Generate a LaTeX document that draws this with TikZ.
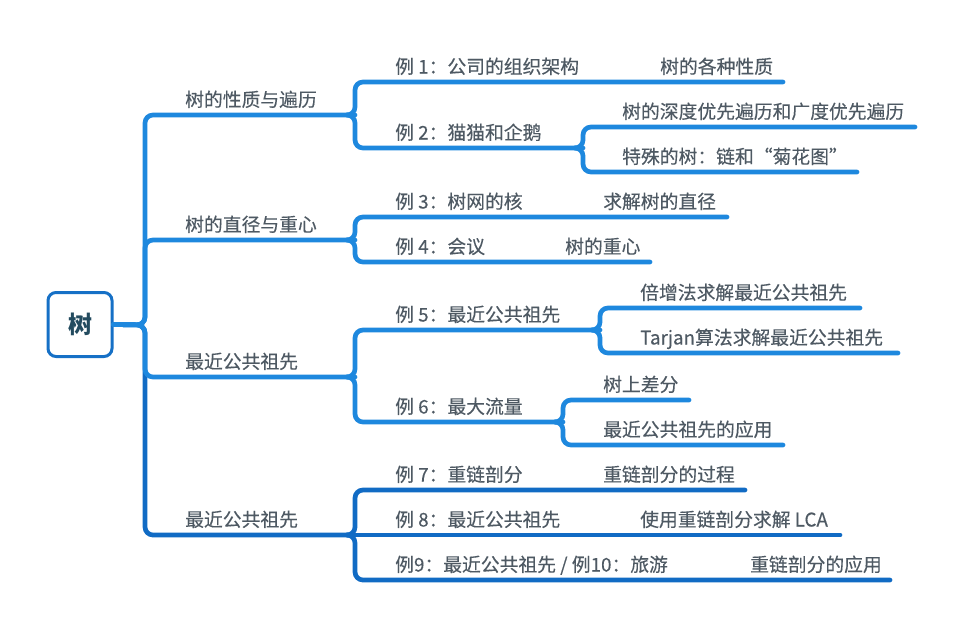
\documentclass[tikz,border=0pt]{standalone}
\usepackage{fontspec}
\setmainfont{Noto Sans CJK SC}
\newfontfamily\topicfont{Noto Sans CJK SC}[FakeBold=0.3]
\definecolor{lineblue}{RGB}{30,136,222}
\definecolor{deepblue}{RGB}{17,107,196}
\definecolor{rootblue}{RGB}{22,112,198}
\definecolor{txtgray}{RGB}{78,89,99}
\definecolor{roottxt}{RGB}{35,75,95}
\tikzset{
  topic/.style={font=\topicfont\fontsize{18.8}{21}\selectfont, text=txtgray, inner sep=0pt, anchor=base west},
  link/.style={line width=4.7pt, line cap=round, rounded corners=8pt, draw=lineblue},
  rootbox/.style={draw=rootblue, line width=3pt, rounded corners=8pt, minimum width=64pt, minimum height=64pt, font=\fontsize{24}{26}\selectfont\bfseries, text=roottxt}
}
\begin{document}
\begin{tikzpicture}[x=1pt,y=-1pt]
    \useasboundingbox (0,0) rectangle (962,629);

    \node[rootbox] (r) at (80,324.5) {树};

    \coordinate (t) at (145,325);
    \coordinate (a) at (355,115);
    \coordinate (b) at (355,240);
    \coordinate (c) at (355,377);
    \coordinate (d) at (355,535);

    \coordinate (a1) at (783,82);
    \coordinate (a2) at (583,148);
    \coordinate (a21) at (915,127);
    \coordinate (a22) at (857,172);
    \coordinate (b1) at (727,217);
    \coordinate (b2) at (650,262);
    \coordinate (c1) at (600,330);
    \coordinate (c11) at (860,308);
    \coordinate (c12) at (898,353);
    \coordinate (c2) at (563,422);
    \coordinate (c21) at (689,400);
    \coordinate (c22) at (783,445);
    \coordinate (d1) at (745,490);
    \coordinate (d2) at (840,535);
    \coordinate (d3) at (890,580);

%   fourth branch first, in the deeper blue
    \draw[link,draw=deepblue] (r.east) -- (t) |- (d);
    \draw[link,draw=deepblue] ([xshift=-8pt]d) -- (d) |- (d1);
    \draw[link,draw=deepblue] (d) -- (d2);
    \draw[link,draw=deepblue] ([xshift=-8pt]d) -- (d) |- (d3);

    \draw[link] (r.east) -- (t) |- (a);
    \draw[link] (r.east) -- (t) |- (b);
    \draw[link] (r.east) -- (t) |- (c);

    \draw[link] ([xshift=-8pt]a) -- (a) |- (a1);
    \draw[link] ([xshift=-8pt]a) -- (a) |- (a2);
    \draw[link] ([xshift=-8pt]a2) -- (a2) |- (a21);
    \draw[link] ([xshift=-8pt]a2) -- (a2) |- (a22);

    \draw[link] ([xshift=-8pt]b) -- (b) |- (b1);
    \draw[link] ([xshift=-8pt]b) -- (b) |- (b2);

    \draw[link] ([xshift=-8pt]c) -- (c) |- (c1);
    \draw[link] ([xshift=-8pt]c) -- (c) |- (c2);
    \draw[link] ([xshift=-8pt]c1) -- (c1) |- (c11);
    \draw[link] ([xshift=-8pt]c1) -- (c1) |- (c12);
    \draw[link] ([xshift=-8pt]c2) -- (c2) |- (c21);
    \draw[link] ([xshift=-8pt]c2) -- (c2) |- (c22);

    \node[topic] (na) at (185,106.5) {树的性质与遍历};
    \node[topic] (nb) at (185,231.5) {树的直径与重心};
    \node[topic] (nc) at (185,368.5) {最近公共祖先};
    \node[topic] (nd) at (185,526.5) {最近公共祖先};

    \node[topic] (na1) at (395,73.5) {例 1：公司的组织架构};
    \node[topic] (xa1) at (660,73.5) {树的各种性质};
    \node[topic] (na2) at (395,139.5) {例 2：猫猫和企鹅};
    \node[topic] (na21) at (622,118.5) {树的深度优先遍历和广度优先遍历};
    \node[topic] (na22) at (622,163.5) {特殊的树：链和“菊花图”};

    \node[topic] (nb1) at (395,208.5) {例 3：树网的核};
    \node[topic] (xb1) at (603,208.5) {求解树的直径};
    \node[topic] (nb2) at (395,253.5) {例 4：会议};
    \node[topic] (xb2) at (565,253.5) {树的重心};

    \node[topic] (nc1) at (395,321.5) {例 5：最近公共祖先};
    \node[topic] (nc11) at (640,299.5) {倍增法求解最近公共祖先};
    \node[topic] (nc12) at (640,344.5) {Tarjan算法求解最近公共祖先};
    \node[topic] (nc2) at (395,413.5) {例 6：最大流量};
    \node[topic] (nc21) at (603,391.5) {树上差分};
    \node[topic] (nc22) at (603,436.5) {最近公共祖先的应用};

    \node[topic] (nd1) at (395,481.5) {例 7：重链剖分};
    \node[topic] (xd1) at (603,481.5) {重链剖分的过程};
    \node[topic] (nd2) at (395,526.5) {例 8：最近公共祖先};
    \node[topic] (xd2) at (640,526.5) {使用重链剖分求解 LCA};
    \node[topic] (nd3) at (395,571.5) {例9：最近公共祖先 / 例10：旅游};
    \node[topic] (xd3) at (750,571.5) {重链剖分的应用};

\end{tikzpicture}
\end{document}
